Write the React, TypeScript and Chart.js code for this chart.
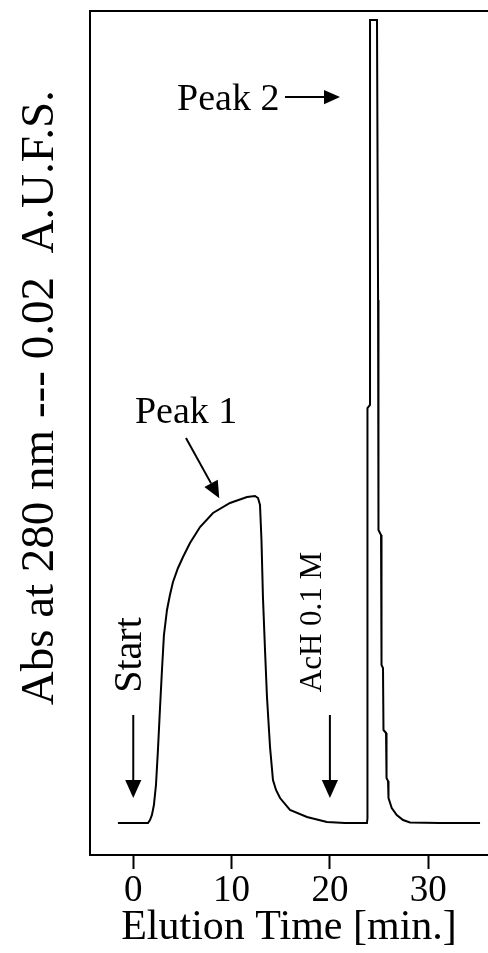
import React, { useEffect, useRef } from "react";
import { Chart, registerables } from "chart.js";

Chart.register(...registerables);

const FONT = "'Liberation Serif', 'Times New Roman', serif";

// Chromatogram trace: elution time (min) and relative absorbance (peak 2 top = 100)
const TIME_MIN = [
  -1.56, 1.5, 1.7, 1.9, 2.1, 2.31, 2.51, 2.71, 2.92, 3.12, 3.43, 3.73, 4.04, 4.55, 5.06, 5.77,
  6.79, 8.11, 9.84, 11.57, 12.38, 12.69, 12.89, 13.04, 13.19, 13.4, 13.6, 13.91, 14.21, 14.52,
  14.93, 15.94, 17.67, 19.7, 21.53, 23.77, 23.82, 23.82, 24.08, 24.08, 24.79, 24.9, 24.94, 25.2,
  25.25, 25.4, 25.45, 25.71, 25.76, 25.91, 25.96, 26.29, 26.8, 27.44, 28.15, 31.2, 35.27,
];
const ABSORBANCE = [
  0, 0, 0.37, 1.0, 2.24, 4.73, 9.09, 14.07, 19.05, 23.41, 26.53, 28.39, 30.01, 31.76, 33.13, 34.87,
  36.86, 38.61, 39.85, 40.6, 40.72, 40.47, 39.6, 35.24, 28.14, 21.54, 15.69, 9.46, 5.35, 4.11,
  3.11, 1.62, 0.75, 0.12, 0, 0, 0.62, 51.68, 52.06, 100, 100, 65.13, 36.49, 35.87,
  19.68, 19.3, 11.58, 11.21, 5.6, 5.23, 3.11, 1.87, 1.0, 0.37, 0.06, 0, 0,
];

const X_TICKS = [0, 10, 20, 30];
const X_MIN = -4.4;
const X_MAX = 36.08;
const Y_MIN = -3.985;
const Y_MAX = 101.12;
const X_TITLE = "Elution Time [min.]";
const Y_TITLE = "      Abs at 280 nm --- 0.02  A.U.F.S.";

// Annotation labels (positions in data units)
const LABEL_TEXTS = ["Peak 1", "Peak 2", "Start", "AcH 0.1 M"];
const LABEL_X = [0.17, 4.45, 0.78, 19.09];
const LABEL_Y = [49.8, 88.8, 20.92, 25.03];
const LABEL_ROTATION = [0, 0, -90, -90];
const LABEL_SIZE = [38, 38, 40, 31];

// Annotation arrows (data units)
const ARROW_FROM_X = [5.36, 15.43, 0, 20];
const ARROW_FROM_Y = [47.95, 90.4, 13.45, 13.45];
const ARROW_TO_X = [8.75, 21.03, 0, 20];
const ARROW_TO_Y = [40.44, 90.4, 3.11, 3.11];
const ARROW_HEAD = [17, 16, 18, 18];

const annotationPlugin = {
  id: "annotations",
  afterDatasetsDraw(chart: any) {
    const { ctx } = chart;
    const xs = chart.scales.x;
    const ys = chart.scales.y;
    ctx.save();
    ctx.fillStyle = "#000";
    ctx.strokeStyle = "#000";
    LABEL_TEXTS.forEach((t, i) => {
      const px = xs.getPixelForValue(LABEL_X[i]);
      const py = ys.getPixelForValue(LABEL_Y[i]);
      ctx.save();
      ctx.font = `${LABEL_SIZE[i]}px ${FONT}`;
      ctx.translate(px, py);
      if (LABEL_ROTATION[i] !== 0) {
        ctx.rotate((LABEL_ROTATION[i] * Math.PI) / 180);
        ctx.textAlign = "center";
      } else {
        ctx.textAlign = "left";
      }
      ctx.textBaseline = "alphabetic";
      ctx.fillText(t, 0, 0);
      ctx.restore();
    });
    ARROW_FROM_X.forEach((_, i) => {
      const x1 = xs.getPixelForValue(ARROW_FROM_X[i]);
      const y1 = ys.getPixelForValue(ARROW_FROM_Y[i]);
      const x2 = xs.getPixelForValue(ARROW_TO_X[i]);
      const y2 = ys.getPixelForValue(ARROW_TO_Y[i]);
      const ang = Math.atan2(y2 - y1, x2 - x1);
      const hl = ARROW_HEAD[i];
      const hw = hl * 0.45;
      const bx = x2 - hl * Math.cos(ang);
      const by = y2 - hl * Math.sin(ang);
      ctx.lineWidth = 2;
      ctx.beginPath();
      ctx.moveTo(x1, y1);
      ctx.lineTo(bx, by);
      ctx.stroke();
      ctx.beginPath();
      ctx.moveTo(x2, y2);
      ctx.lineTo(bx + hw * Math.sin(ang), by - hw * Math.cos(ang));
      ctx.lineTo(bx - hw * Math.sin(ang), by + hw * Math.cos(ang));
      ctx.closePath();
      ctx.fill();
    });
    ctx.restore();
  },
};

export default function App() {
  const ref = useRef<HTMLCanvasElement | null>(null);

  useEffect(() => {
    if (!ref.current) return;
    const points = TIME_MIN.map((x, i) => ({ x, y: ABSORBANCE[i] }));
    const chart = new Chart(ref.current, {
      type: "line",
      data: {
        datasets: [
          {
            data: points,
            borderColor: "#000",
            borderWidth: 2,
            pointRadius: 0,
            tension: 0,
            fill: false,
          },
        ],
      },
      options: {
        animation: false,
        responsive: false,
        layout: { padding: 0 },
        plugins: { legend: { display: false }, tooltip: { enabled: false } },
        scales: {
          x: {
            type: "linear",
            position: "bottom",
            min: X_MIN,
            max: X_MAX,
            afterBuildTicks: (s: any) => {
              s.ticks = X_TICKS.map((v) => ({ value: v }));
            },
            afterFit: (s: any) => {
              s.height = 98;
            },
            ticks: {
              color: "#000",
              font: { family: FONT, size: 37 },
              padding: 0,
              maxRotation: 0,
              autoSkip: false,
            },
            grid: {
              display: true,
              drawOnChartArea: false,
              drawTicks: true,
              tickLength: 14,
              tickWidth: 2,
              tickColor: "#000",
              color: "#000",
            },
            border: { display: true, color: "#000", width: 2 },
            title: {
              display: true,
              text: X_TITLE,
              color: "#000",
              font: { family: FONT, size: 42 },
              padding: { top: 0, bottom: 0 },
            },
          },
          x2: {
            type: "linear",
            axis: "x",
            position: "top",
            min: X_MIN,
            max: X_MAX,
            afterFit: (s: any) => {
              s.height = 11;
            },
            ticks: { display: false },
            grid: { display: false },
            border: { display: true, color: "#000", width: 2 },
          },
          y: {
            type: "linear",
            min: Y_MIN,
            max: Y_MAX,
            afterFit: (s: any) => {
              s.width = 90;
            },
            ticks: { display: false },
            grid: { display: false },
            border: { display: true, color: "#000", width: 2 },
            title: {
              display: true,
              text: Y_TITLE,
              color: "#000",
              font: { family: FONT, size: 47 },
              padding: { top: 12, bottom: 0 },
            },
          },
        },
      },
      plugins: [annotationPlugin],
    } as any);
    return () => chart.destroy();
  }, []);

  return (
    <div style={{ position: "fixed", left: 0, top: 0, width: 488, height: 953, background: "#fff" }}>
      <canvas ref={ref} width={488} height={953} style={{ width: 488, height: 953, display: "block" }} />
    </div>
  );
}
